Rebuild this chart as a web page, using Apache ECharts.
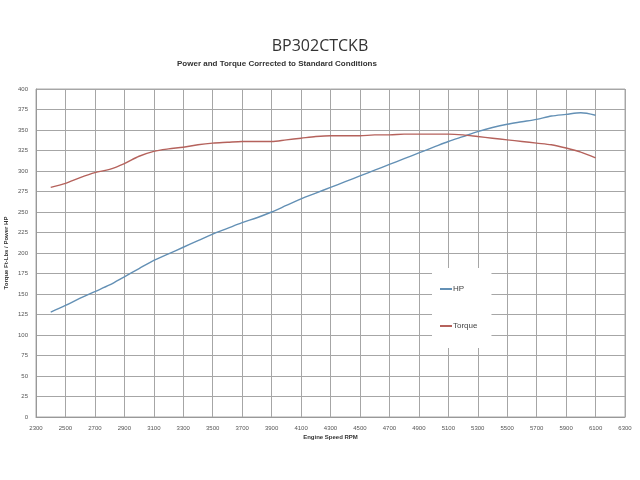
<!DOCTYPE html>
<html><head><meta charset="utf-8">
<script src="https://cdn.jsdelivr.net/npm/echarts@6/dist/echarts.min.js"></script>
<style>html,body{margin:0;padding:0;background:#fff}#c{width:640px;height:480px}</style>
</head><body><div id="c"></div>
<script>
var rpm = [2400,2500,2600,2700,2800,2900,3000,3100,3200,3300,3400,3500,3600,3700,3800,3900,4000,4100,4200,4300,4400,4500,4600,4700,4800,4900,5000,5100,5200,5300,5400,5500,5600,5700,5800,5900,6000,6100];
var hp = [128,136,145,153,161,171,181,191,199,207,215,223,230,237,243,250,258,266,273,280,287,294,301,308,315,322,329,336,342,348,353,357,360,363,367,369,371,368];
var torque = [280,285,292,298,302,309,318,324,327,329,332,334,335,336,336,336,338,340,342,343,343,343,344,344,345,345,345,345,344,342,340,338,336,334,332,328,323,316];
var seriesNames = ['HP','Torque'];
function pairs(xs, ys){ return xs.map(function(x,i){ return [x, ys[i]]; }); }
var font = 'Liberation Sans';
var chart = echarts.init(document.getElementById('c'));
chart.setOption({
  animation:false,
  backgroundColor:'#fff',
  title:[
    {text:'BP302CTCKB', left:'center', top:33, textStyle:{fontFamily:'Open Sans', fontSize:16, fontWeight:'normal', color:'#333'}},
    {text:'Power and Torque Corrected to Standard Conditions', left:172, top:55, textStyle:{fontFamily:font, fontSize:8, fontWeight:'bold', color:'#333'}}
  ],
  grid:{left:36, right:15, top:89, bottom:63, containLabel:false, outerBoundsMode:'none', show:true, borderColor:'#aaa', borderWidth:1},
  legend:{
    orient:'vertical', left:432, top:268, data:seriesNames,
    backgroundColor:'#fff', padding:[17,14,18,8], itemGap:29,
    itemWidth:12, itemHeight:2, icon:'rect',
    textStyle:{fontFamily:font, fontSize:8, color:'#444', padding:[0,0,0,-4]}
  },
  xAxis:{
    type:'value', min:2300, max:6300, interval:200,
    name:'Engine Speed RPM', nameLocation:'middle', nameGap:17, nameMoveOverlap:false,
    nameTextStyle:{fontFamily:font, fontSize:6, fontWeight:'bold', color:'#333'},
    axisLine:{show:true, lineStyle:{color:'#999'}}, axisTick:{show:false},
    axisLabel:{fontFamily:font, fontSize:6, color:'#555', margin:8, formatter:function(v){return String(v);}},
    splitLine:{show:true, lineStyle:{color:'#a6a6a6', width:1}}
  },
  yAxis:{
    type:'value', min:0, max:400, interval:25,
    name:'Torque Ft-Lbs / Power HP', nameLocation:'middle', nameGap:27, nameMoveOverlap:false,
    nameTextStyle:{fontFamily:font, fontSize:6, fontWeight:'bold', color:'#333'},
    axisLine:{show:true, lineStyle:{color:'#999'}}, axisTick:{show:false},
    axisLabel:{fontFamily:font, fontSize:6, color:'#555', margin:8},
    splitLine:{show:true, lineStyle:{color:'#a6a6a6', width:1}}
  },
  series:[
    {name:seriesNames[0], type:'line', data:pairs(rpm,hp), showSymbol:false, smooth:0.3, lineStyle:{color:'#6390b5', width:1.4}, itemStyle:{color:'#6390b5'}},
    {name:seriesNames[1], type:'line', data:pairs(rpm,torque), showSymbol:false, smooth:0.3, lineStyle:{color:'#b5625c', width:1.4}, itemStyle:{color:'#b5625c'}}
  ]
});
</script></body></html>
